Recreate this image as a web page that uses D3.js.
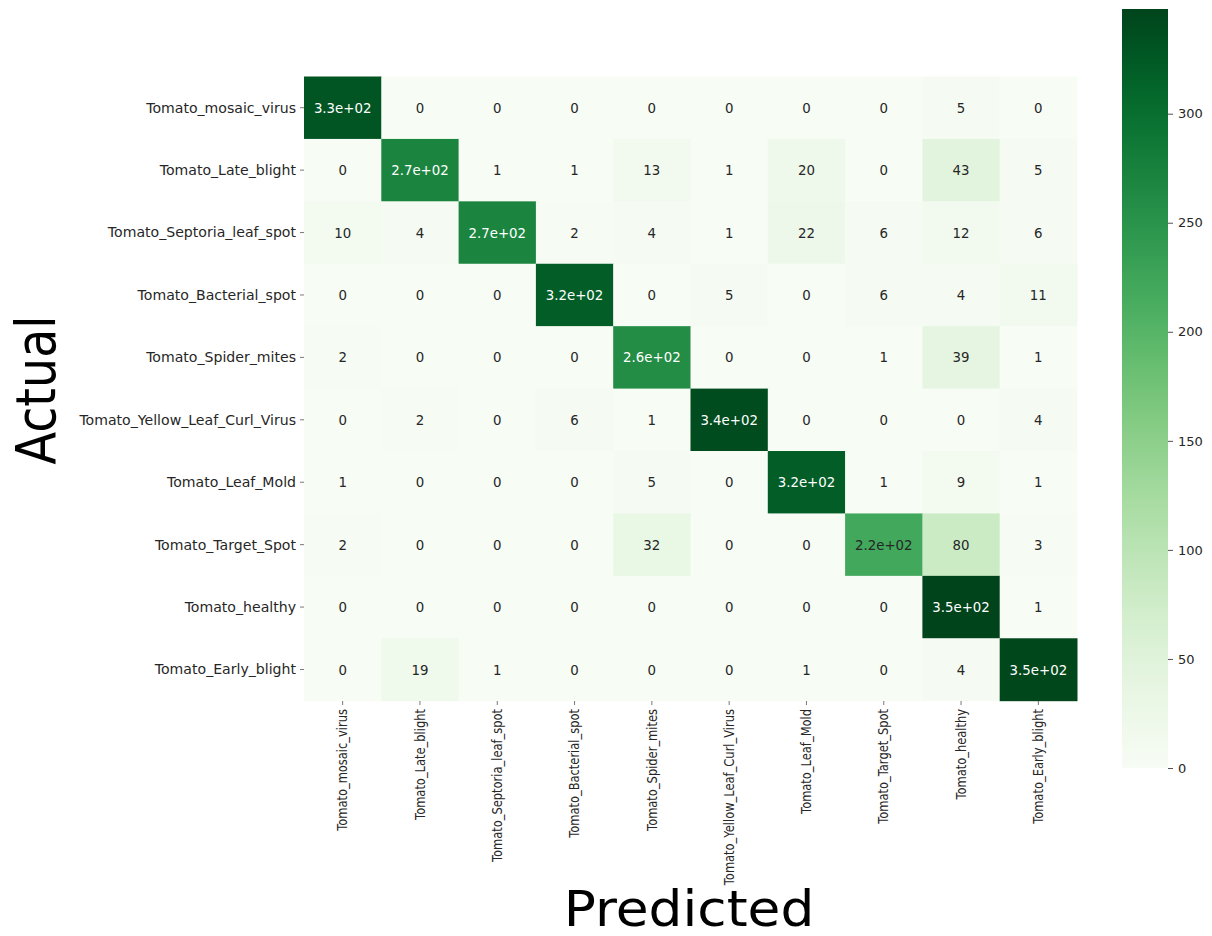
<!DOCTYPE html>
<html>
<head>
<meta charset="utf-8">
<script src="https://cdn.jsdelivr.net/npm/d3@7"></script>
<style>
	body { margin: 0; background: #fff; }
	svg { display: block; font-family: "DejaVu Sans", sans-serif; }
</style>
</head>
<body>
<svg id="chart" width="1212" height="936"></svg>
<script>
const classes = [
	"Tomato_mosaic_virus", "Tomato_Late_blight", "Tomato_Septoria_leaf_spot",
	"Tomato_Bacterial_spot", "Tomato_Spider_mites", "Tomato_Yellow_Leaf_Curl_Virus",
	"Tomato_Leaf_Mold", "Tomato_Target_Spot", "Tomato_healthy", "Tomato_Early_blight"
];

// rows = actual, columns = predicted
const counts = [
	[330, 0, 0, 0, 0, 0, 0, 0, 5, 0],
	[0, 270, 1, 1, 13, 1, 20, 0, 43, 5],
	[10, 4, 270, 2, 4, 1, 22, 6, 12, 6],
	[0, 0, 0, 320, 0, 5, 0, 6, 4, 11],
	[2, 0, 0, 0, 260, 0, 0, 1, 39, 1],
	[0, 2, 0, 6, 1, 340, 0, 0, 0, 4],
	[1, 0, 0, 0, 5, 0, 320, 1, 9, 1],
	[2, 0, 0, 0, 32, 0, 0, 220, 80, 3],
	[0, 0, 0, 0, 0, 0, 0, 0, 348, 1],
	[0, 19, 1, 0, 0, 0, 1, 0, 4, 345]
];

const colorbarTicks = [0, 50, 100, 150, 200, 250, 300];

const svg = d3.select("#chart");
const textColor = "#262626";

const vmax = d3.max(counts.flat());
const color = d3.scaleSequential(d3.interpolateGreens).domain([0, vmax]);

const x = d3.scaleBand().domain(d3.range(classes.length)).range([304, 1077]);
const y = d3.scaleBand().domain(d3.range(classes.length)).range([76.5, 700.7]);

const cells = [];
counts.forEach((row, i) => row.forEach((v, j) => cells.push({ i, j, v })));

// matplotlib style ".2g"
function fmt(v) {
	if (v < 100) return String(v);
	const s = d3.format(".1e")(v); // e.g. 3.3e+2
	return s.replace(/e([+-])(\d)$/, "e$10$2");
}

function textFor(v) {
	const c = d3.rgb(color(v));
	const lum = 0.2126 * c.r + 0.7152 * c.g + 0.0722 * c.b;
	return lum > 140 ? textColor : "#ffffff";
}

const g = svg.append("g");

g.selectAll("rect.cell")
	.data(cells)
	.enter().append("rect")
	.attr("class", "cell")
	.attr("x", d => x(d.j))
	.attr("y", d => y(d.i))
	.attr("width", x.bandwidth() + 0.5)
	.attr("height", y.bandwidth() + 0.5)
	.attr("fill", d => color(d.v));

g.selectAll("text.annot")
	.data(cells)
	.enter().append("text")
	.attr("class", "annot")
	.attr("transform", d => `translate(${x(d.j) + x.bandwidth() / 2},${y(d.i) + y.bandwidth() / 2}) scale(0.92,1)`)
	.attr("dy", "0.35em")
	.attr("text-anchor", "middle")
	.attr("font-size", 14.5)
	.attr("fill", d => textFor(d.v))
	.text(d => fmt(d.v));

// y axis (actual)
const yAxis = svg.append("g");
classes.forEach((name, i) => {
	const cy = y(i) + y.bandwidth() / 2;
	yAxis.append("line")
		.attr("x1", 300).attr("x2", 304)
		.attr("y1", cy).attr("y2", cy)
		.attr("stroke", "#555").attr("stroke-width", 0.8);
	yAxis.append("text")
		.attr("x", 296).attr("y", cy)
		.attr("dy", "0.35em")
		.attr("text-anchor", "end")
		.attr("font-size", 14.1)
		.attr("fill", textColor)
		.text(name);
});

// x axis (predicted)
const xAxis = svg.append("g");
classes.forEach((name, j) => {
	const cx = x(j) + x.bandwidth() / 2;
	xAxis.append("line")
		.attr("x1", cx).attr("x2", cx)
		.attr("y1", 701).attr("y2", 705)
		.attr("stroke", "#555").attr("stroke-width", 0.8);
	xAxis.append("text")
		.attr("transform", `translate(${cx},709) rotate(-90) scale(0.85,1)`)
		.attr("dy", "0.35em")
		.attr("text-anchor", "end")
		.attr("font-size", 13.5)
		.attr("fill", textColor)
		.text(name);
});

svg.append("text")
	.attr("transform", "translate(55,390) rotate(-90) scale(0.85,1)")
	.attr("text-anchor", "middle")
	.attr("font-size", 56)
	.attr("fill", "#000")
	.text("Actual");

svg.append("text")
	.attr("transform", "translate(689,926) scale(1.09,1)")
	.attr("text-anchor", "middle")
	.attr("font-size", 49)
	.attr("fill", "#000")
	.text("Predicted");

// colorbar
const cbX = 1122, cbW = 46;
const cbScale = d3.scaleLinear().domain([0, vmax]).range([768, 9]);

const defs = svg.append("defs");
const grad = defs.append("linearGradient")
	.attr("id", "cbgrad")
	.attr("x1", 0).attr("y1", 1).attr("x2", 0).attr("y2", 0);
d3.range(0, 1.0001, 0.05).forEach(t => {
	grad.append("stop")
		.attr("offset", t)
		.attr("stop-color", color(t * vmax));
});

svg.append("rect")
	.attr("x", cbX).attr("y", cbScale(vmax))
	.attr("width", cbW).attr("height", cbScale(0) - cbScale(vmax))
	.attr("fill", "url(#cbgrad)");

const cbAxis = d3.axisRight(cbScale)
	.tickValues(colorbarTicks)
	.tickSize(5)
	.tickPadding(5);

svg.append("g")
	.attr("transform", `translate(${cbX + cbW},0)`)
	.call(cbAxis)
	.call(a => a.select(".domain").remove())
	.call(a => a.selectAll("line").attr("stroke", textColor).attr("stroke-width", 0.8))
	.call(a => a.selectAll("text")
		.attr("font-size", 13)
		.attr("font-family", "DejaVu Sans, sans-serif")
		.attr("fill", textColor));
</script>
</body>
</html>
